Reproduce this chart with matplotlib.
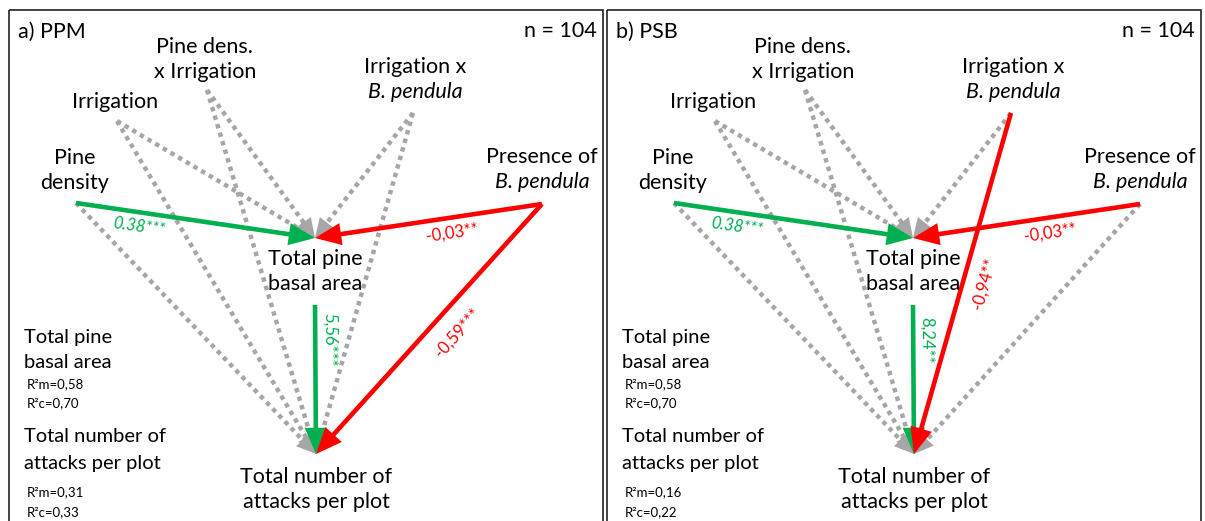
import numpy as np
import matplotlib
matplotlib.use("Agg")
import matplotlib.pyplot as plt
from matplotlib.patches import FancyArrowPatch, Rectangle

plt.rcParams['font.family'] = ['Lato', 'DejaVu Sans']

# ---------------------------------------------------------------- data
panel_titles = ["a) PPM", "b) PSB"]
n_obs = [104, 104]

# node labels: list of (text, italic)
node_labels = {
    "pd":    [("Pine", False), ("density", False)],
    "irr":   [("Irrigation", False)],
    "pdxi":  [("Pine dens.", False), ("x Irrigation", False)],
    "ixbp":  [("Irrigation x", False), ("B. pendula", True)],
    "pres":  [("Presence of", False), ("B. pendula", True)],
    "basal": [("Total pine", False), ("basal area", False)],
    "att":   [("Total number of", False), ("attacks per plot", False)],
}

# path coefficients (None = non significant path)
edges_a = [
    ("irr", "basal", None), ("pdxi", "basal", None), ("ixbp", "basal", None),
    ("pd", "att", None), ("irr", "att", None), ("pdxi", "att", None), ("ixbp", "att", None),
    ("pd", "basal", "0.38***"), ("pres", "basal", "-0,03**"),
    ("basal", "att", "5,56***"), ("pres", "att", "-0,59***"),
]
edges_b = [
    ("irr", "basal", None), ("pdxi", "basal", None), ("ixbp", "basal", None),
    ("pd", "att", None), ("irr", "att", None), ("pdxi", "att", None), ("pres", "att", None),
    ("pd", "basal", "0.38***"), ("pres", "basal", "-0,03**"),
    ("basal", "att", "8,24**"), ("ixbp", "att", "-0,94**"),
]
edges = [edges_a, edges_b]

r2_basal = [(0.58, 0.70), (0.58, 0.70)]
r2_att = [(0.31, 0.33), (0.16, 0.22)]

# ---------------------------------------------------------------- layout (pixels, panel a local)
panel_dx = [0, 598]
start_pt = {"pd": (76, 203), "irr": (117, 121), "pdxi": (207, 90),
            "ixbp": (413, 113), "pres": (542, 204), "basal": (315, 305)}
end_pt = {"basal": (315, 238), "att": (316, 454)}
label_pos = {"pd": (75, 158), "irr": (115, 102), "pdxi": (205, 47),
             "ixbp": (415, 67), "pres": (542, 157), "basal": (315, 259),
             "att": (316, 477)}
line_gap = 25
coef_pos = {("pd", "basal"): (139, 227, -8, True),
            ("pres", "basal"): (452, 233, 8.5, False),
            ("basal", "att"): (329, 340, -90, False),
            ("pres", "att"): (458, 333, 48, False),
            ("ixbp", "att"): (386, 284, 74, False)}

GREEN = '#00b050'
RED = '#ff0000'
GREY = '#a6a6a6'
FS = 15.5

fig = plt.figure(figsize=(12.05, 5.21), dpi=100)
ax = fig.add_axes([0, 0, 1, 1])
ax.set_xlim(0, 1205)
ax.set_ylim(521, 0)
ax.axis('off')


def grey_path(p0, p1, dx):
    p0 = np.array(p0, float) + [dx, 0]
    p1 = np.array(p1, float) + [dx, 0]
    u = (p1 - p0) / np.linalg.norm(p1 - p0)
    pe = p1 - u * 17
    ax.plot([p0[0], pe[0]], [p0[1], pe[1]], color=GREY, lw=3.2,
            ls=(0, (1, 1)), dash_capstyle='butt', zorder=2)
    head = FancyArrowPatch(p1 - u * 24, p1, arrowstyle='-|>,head_length=14,head_width=6.5',
                           mutation_scale=1, lw=0, color=GREY, shrinkA=0, shrinkB=0, zorder=2)
    ax.add_patch(head)


def solid_path(p0, p1, dx, color):
    p0 = np.array(p0, float) + [dx, 0]
    p1 = np.array(p1, float) + [dx, 0]
    arr = FancyArrowPatch(p0, p1, arrowstyle='-|>,head_length=13,head_width=5.5',
                          mutation_scale=1, lw=3.3, color=color, shrinkA=0, shrinkB=0,
                          joinstyle='miter', capstyle='butt', zorder=3)
    ax.add_patch(arr)


for k in range(2):
    dx = panel_dx[k]
    ax.add_patch(Rectangle((9 + dx, 10), 594, 530, fill=False, ec='#222222', lw=1.2, zorder=1))
    ax.text(18 + dx, 32, panel_titles[k], fontsize=FS, ha='left', va='center')
    ax.text(597 + dx, 31, "n = %d" % n_obs[k], fontsize=FS, ha='right', va='center')

    for node, lines in node_labels.items():
        x, y = label_pos[node]
        for i, (txt, it) in enumerate(lines):
            ax.text(x + dx, y + i * line_gap, txt, fontsize=FS, ha='center', va='center',
                    style='italic' if it else 'normal', zorder=4)

    for src, dst, coef in edges[k]:
        if coef is None:
            grey_path(start_pt[src], end_pt[dst], dx)
    for src, dst, coef in edges[k]:
        if coef is None:
            continue
        color = RED if coef.startswith('-') else GREEN
        solid_path(start_pt[src], end_pt[dst], dx, color)
        cx, cy, rot, it = coef_pos[(src, dst)]
        ax.text(cx + dx, cy, coef, fontsize=12, color=color, rotation=rot,
                rotation_mode='anchor', ha='center', va='center',
                style='italic' if it else 'normal', zorder=5)

    # R2 notes
    ax.text(24 + dx, 338, "Total pine", fontsize=FS - 1, ha='left', va='center')
    ax.text(24 + dx, 362, "basal area", fontsize=FS - 1, ha='left', va='center')
    ax.text(27 + dx, 384, "R²m=%s" % f"{r2_basal[k][0]:.2f}".replace('.', ','), fontsize=9.5, va='center')
    ax.text(27 + dx, 403, "R²c=%s" % f"{r2_basal[k][1]:.2f}".replace('.', ','), fontsize=9.5, va='center')
    ax.text(24 + dx, 437, "Total number of", fontsize=FS - 1, ha='left', va='center')
    ax.text(24 + dx, 463, "attacks per plot", fontsize=FS - 1, ha='left', va='center')
    ax.text(27 + dx, 492, "R²m=%s" % f"{r2_att[k][0]:.2f}".replace('.', ','), fontsize=9.5, va='center')
    ax.text(27 + dx, 512, "R²c=%s" % f"{r2_att[k][1]:.2f}".replace('.', ','), fontsize=9.5, va='center')

fig.savefig("out.png", dpi=100)
